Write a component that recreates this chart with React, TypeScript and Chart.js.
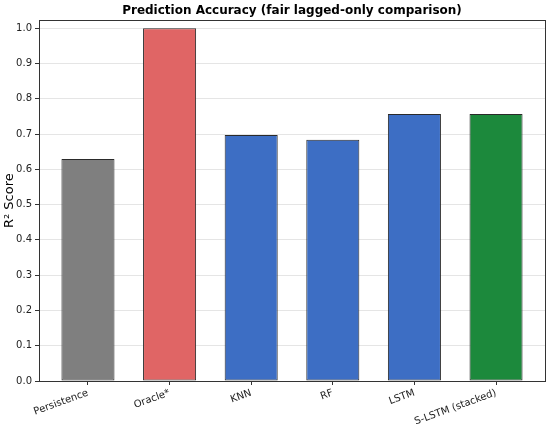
import React, { useEffect, useRef } from "react";
import { Chart, registerables } from "chart.js";

Chart.register(...registerables);

const categories = ["Persistence", "Oracle*", "KNN", "RF", "LSTM", "S-LSTM (stacked)"];
const r2Values = [0.629, 1.0, 0.697, 0.684, 0.757, 0.757];
const barColors = ["#7f7f7f", "#e06565", "#3d6ec4", "#3d6ec4", "#3d6ec4", "#1c893c"];
const yTicks = [0, 0.1, 0.2, 0.3, 0.4, 0.5, 0.6, 0.7, 0.8, 0.9, 1.0];

const FONT = "'DejaVu Sans', sans-serif";

const boxPlugin = {
  id: "boxPlugin",
  afterDraw(chart: any) {
    const { ctx, chartArea } = chart;
    ctx.save();
    ctx.strokeStyle = "#333333";
    ctx.lineWidth = 1;
    ctx.strokeRect(
      Math.round(chartArea.left) + 0.5,
      Math.round(chartArea.top) + 0.5,
      Math.round(chartArea.right - chartArea.left),
      Math.round(chartArea.bottom - chartArea.top)
    );
    ctx.restore();
  },
};

export default function App() {
  const ref = useRef<HTMLCanvasElement>(null);
  useEffect(() => {
    document.body.style.margin = "0";
    const canvas = ref.current!;
    const chart = new Chart(canvas, {
      type: "bar",
      data: {
        datasets: [
          {
            data: categories.map((_, i) => ({ x: i, y: r2Values[i] })),
            backgroundColor: barColors,
            borderColor: "#2a2a2a",
            borderWidth: 1,
            borderSkipped: false,
            barPercentage: 0.65,
            categoryPercentage: 1,
          },
        ],
      },
      options: {
        responsive: false,
        animation: false,
        devicePixelRatio: 1,
        layout: { padding: { left: 0, right: 5, top: 0, bottom: 0 } },
        plugins: {
          legend: { display: false },
          tooltip: { enabled: false },
          title: {
            display: true,
            text: "Prediction Accuracy (fair lagged-only comparison)",
            fullSize: false,
            color: "#000",
            font: { family: FONT, size: 12, weight: "bold" },
            padding: { top: 4, bottom: 2 },
          },
        },
        scales: {
          x: {
            type: "linear",
            min: -0.6,
            max: 5.6,
            offset: false,
            afterBuildTicks: (scale: any) => {
              scale.ticks = categories.map((_, i) => ({ value: i }));
            },
            afterFit: (scale: any) => {
              scale.height = 46;
            },
            ticks: {
              autoSkip: false,
              minRotation: 20,
              maxRotation: 20,
              color: "#222",
              font: { family: FONT, size: 10 },
              padding: 2,
              callback: (v: any) => categories[Math.round(Number(v))] ?? "",
            },
            grid: {
              offset: false,
              drawOnChartArea: false,
              drawTicks: true,
              tickLength: 4,
              tickColor: "#333",
            },
            border: { display: true, color: "#333" },
          },
          y: {
            min: 0,
            max: 1.022,
            afterBuildTicks: (scale: any) => {
              scale.ticks = yTicks.map((v) => ({ value: v }));
            },
            afterFit: (scale: any) => {
              scale.width = 39;
            },
            ticks: {
              color: "#222",
              font: { family: FONT, size: 10 },
              padding: 3,
              callback: (v: any) => Number(v).toFixed(1),
            },
            grid: {
              color: "rgba(0,0,0,0.1)",
              drawTicks: true,
              tickLength: 4,
              tickColor: "#333",
            },
            border: { display: true, color: "#333" },
            title: {
              display: true,
              text: "R² Score",
              color: "#000",
              font: { family: FONT, size: 13 },
              padding: { top: 2, bottom: 0 },
            },
          },
        },
      },
      plugins: [boxPlugin],
    } as any);
    return () => chart.destroy();
  }, []);
  return <canvas ref={ref} width={550} height={427} style={{ display: "block" }} />;
}
